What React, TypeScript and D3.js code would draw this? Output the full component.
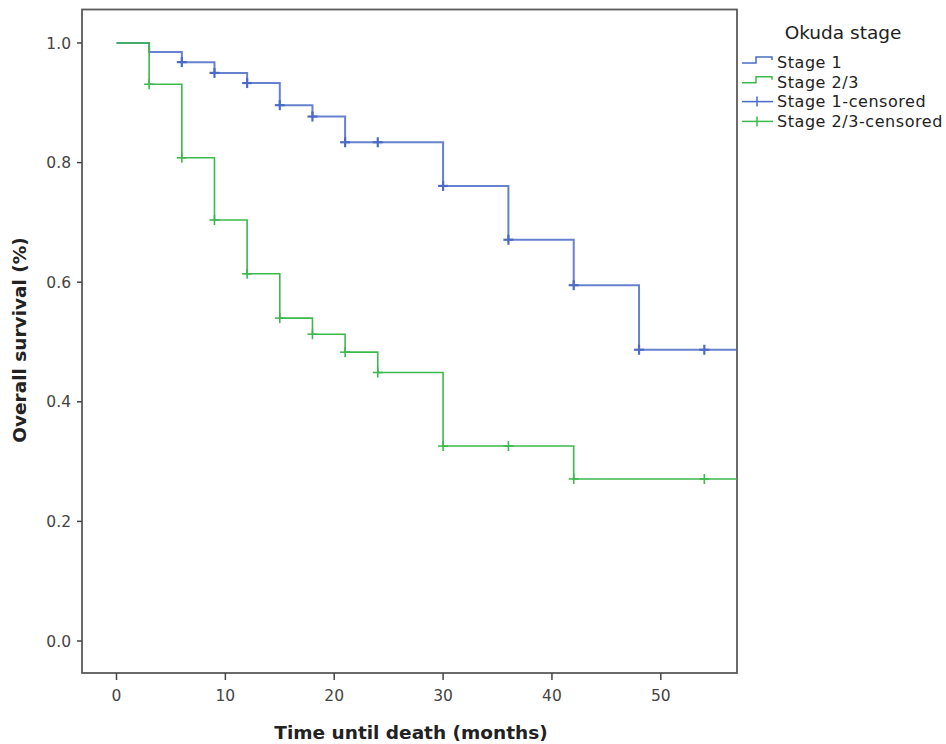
import React from "react";
import * as d3 from "d3";

const xTicks = [0, 10, 20, 30, 40, 50];
const yTicks = [0.0, 0.2, 0.4, 0.6, 0.8, 1.0];

const stage1Times = [0, 3, 6, 9, 12, 15, 18, 21, 30, 36, 42, 48];
const stage1Surv = [1.0, 0.985, 0.968, 0.95, 0.933, 0.896, 0.877, 0.834, 0.761, 0.671, 0.595, 0.487];
const stage1Censor = [6, 9, 12, 15, 18, 21, 24, 30, 36, 42, 48, 54];

const stage23Times = [0, 3, 6, 9, 12, 15, 18, 21, 24, 30, 42];
const stage23Surv = [1.0, 0.931, 0.808, 0.704, 0.614, 0.54, 0.513, 0.483, 0.449, 0.326, 0.271];
const stage23Censor = [3, 6, 9, 12, 15, 18, 21, 24, 30, 36, 42, 54];

const maxTime = 57;
const legendLabels = ["Stage 1", "Stage 2/3", "Stage 1-censored", "Stage 2/3-censored"];

const BLUE = "#4b6bc6";
const GREEN = "#3cb94e";

const W = 946;
const H = 744;

function survAt(times: number[], surv: number[], t: number) {
  let v = surv[0];
  for (let i = 0; i < times.length; i++) if (times[i] <= t) v = surv[i];
  return v;
}

export default function App() {
  const x = d3.scaleLinear().domain([-3.17, 57]).range([82, 737]);
  const y = d3.scaleLinear().domain([-0.0535, 1.056]).range([673, 9.5]);

  const line = d3
    .line<[number, number]>()
    .x((d) => x(d[0]))
    .y((d) => y(d[1]))
    .curve(d3.curveStepAfter);

  const series = [
    { times: stage1Times, surv: stage1Surv, censor: stage1Censor, color: BLUE, w: 2, cw: 2.2, op: 0.85 },
    { times: stage23Times, surv: stage23Surv, censor: stage23Censor, color: GREEN, w: 1.6, cw: 1.6, op: 1 },
  ];

  const font = "'DejaVu Sans', 'Open Sans', sans-serif";

  return (
    <svg width={W} height={H} style={{ position: "absolute", left: 0, top: 0, background: "#fff" }}>
      <rect x={0} y={0} width={W} height={H} fill="#fff" />
      {/* frame */}
      <rect x={82} y={9.5} width={655} height={663.5} fill="none" stroke="#5a5a5a" strokeWidth={1.8} />
      {/* y axis ticks */}
      {yTicks.map((t) => (
        <g key={"y" + t}>
          <line x1={77} x2={82} y1={y(t)} y2={y(t)} stroke="#444" strokeWidth={1.5} />
          <text x={71} y={y(t)} dy="0.36em" textAnchor="end" fontFamily={font} fontSize={15.5} fill="#444">
            {t.toFixed(1)}
          </text>
        </g>
      ))}
      {/* x axis ticks */}
      {xTicks.map((t) => (
        <g key={"x" + t}>
          <line x1={x(t)} x2={x(t)} y1={673} y2={680} stroke="#444" strokeWidth={1.5} />
          <text x={x(t)} y={701} textAnchor="middle" fontFamily={font} fontSize={15.5} fill="#444">
            {t}
          </text>
        </g>
      ))}
      {/* axis titles */}
      <text x={411} y={739} textAnchor="middle" fontFamily={font} fontWeight="bold" fontSize={18.5} fill="#222">
        Time until death (months)
      </text>
      <text
        transform={`translate(26,340) rotate(-90)`}
        textAnchor="middle"
        fontFamily={font}
        fontWeight="bold"
        fontSize={18.5}
        fill="#222"
      >
        Overall survival (%)
      </text>
      {/* curves */}
      {series.map((s, i) => {
        const pts: [number, number][] = s.times.map((t, j) => [t, s.surv[j]] as [number, number]);
        pts.push([maxTime, s.surv[s.surv.length - 1]]);
        return (
          <g key={"s" + i}>
            <path d={line(pts) || ""} fill="none" stroke={s.color} strokeWidth={s.w} strokeOpacity={s.op} />
            {s.censor.map((c, k) => {
              const cx = x(c);
              const cy = y(survAt(s.times, s.surv, c));
              return (
                <g key={k} stroke={s.color} strokeWidth={s.cw}>
                  <line x1={cx - 5} x2={cx + 5} y1={cy} y2={cy} />
                  <line x1={cx} x2={cx} y1={cy - 5} y2={cy + 5} />
                </g>
              );
            })}
          </g>
        );
      })}
      {/* legend */}
      <text x={843} y={32} dy="0.36em" textAnchor="middle" fontFamily={font} fontSize={18.5} fill="#222">
        Okuda stage
      </text>
      {legendLabels.map((lab, i) => {
        const cy = 62 + i * 19.8;
        const color = i % 2 === 0 ? BLUE : GREEN;
        const isStep = i < 2;
        return (
          <g key={lab}>
            {isStep ? (
              <path
                d={`M742,${cy + 1}H756V${cy - 5}H772V${cy - 2}`}
                fill="none"
                stroke={color}
                strokeWidth={1.5}
              />
            ) : (
              <g stroke={color} strokeWidth={1.5}>
                <line x1={742} x2={773} y1={cy} y2={cy} />
                <line x1={757} x2={757} y1={cy - 5} y2={cy + 5} />
              </g>
            )}
            <text x={777} y={cy} dy="0.36em" fontFamily={font} fontSize={16} letterSpacing={0.55} fill="#222">
              {lab}
            </text>
          </g>
        );
      })}
    </svg>
  );
}
